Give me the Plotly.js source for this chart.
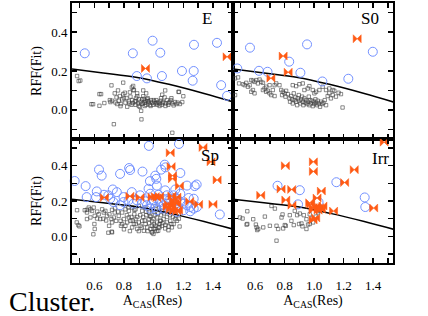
<!DOCTYPE html>
<html>
<head>
<meta charset="utf-8">
<script src="https://cdn.plot.ly/plotly-3.0.1.min.js"></script>
<style>html,body{margin:0;padding:0;background:#fff;}#chart{width:428px;height:316px;}</style>
</head>
<body>
<div id="chart"></div>
<script>
// ---- reference curve (same in all panels) ----
const curveX = [0.45, 0.66, 0.89, 1.11, 1.34, 1.54];
const curveY = [0.21, 0.19, 0.167, 0.13, 0.084, 0.04];

// ---- E panel ----
const eSqX = [0.484,0.495,0.506,0.581,0.592,0.635,0.635,0.646,0.668,0.716,0.705,0.732,0.795,0.709,0.72,0.738,0.75,0.743,0.754,0.765,0.772,0.777,0.788,0.795,0.806,0.81,0.817,0.822,0.833,0.837,0.844,0.851,0.855,0.862,0.867,0.873,0.878,0.882,0.889,0.894,0.9,0.907,0.912,0.916,0.918,0.923,0.927,0.934,0.939,0.945,0.95,0.957,0.964,0.968,0.975,0.982,0.991,0.997,1.004,1.013,1.018,1.024,1.031,1.04,1.047,1.054,1.058,1.065,1.074,1.081,1.09,1.099,1.108,1.117,1.126,1.135,1.144,1.153,1.162,1.171,1.177,1.193,1.126,0.86,0.88,0.9,0.92,0.94,0.96,0.98,1.0,1.02,1.04,1.06,1.08,1.1,1.05,0.93,0.96,0.89,1.12,1.2,0.78,0.8,0.84,0.76,0.93,0.95,0.853,0.864,1.078,1.168];
const eSqY = [0.174,0.148,0.151,0.029,0.029,0.021,0.081,0.081,0.035,0.126,0.05,-0.074,0.14,0.04,0.047,0.085,0.064,0.038,0.03,0.047,0.071,0.019,0.054,0.081,0.088,0.037,0.061,0.016,0.043,0.033,0.068,0.026,0.05,0.123,0.102,0.043,0.026,0.061,0.085,0.033,0.054,0.016,0.042,-0.005,-0.049,0.054,0.033,0.057,0.037,0.047,0.026,0.054,0.033,0.043,0.026,0.05,0.037,0.026,0.043,0.033,0.05,0.026,0.04,0.033,0.047,0.026,0.078,0.04,0.064,0.033,0.05,0.026,0.04,0.05,0.033,0.023,0.04,0.03,0.037,0.092,0.03,0.04,-0.118,0.035,0.045,0.02,0.03,0.02,0.045,0.02,0.05,0.035,0.02,0.035,0.02,0.035,0.06,0.07,0.06,0.07,0.06,0.07,0.03,0.06,0.09,0.1,0.1,0.085,0.115,0.101,0.1,0.093];
const eCircX = [0.536,0.86,0.993,1.045,1.272,1.427,0.887,0.955,1.056,1.191,1.27,1.263,1.455,1.495];
const eCircY = [0.291,0.291,0.356,0.294,0.335,0.345,0.174,0.162,0.174,0.2,0.2,0.15,0.127,0.072];
const eBowX = [0.945,1.495];
const eBowY = [0.213,0.273];

// ---- S0 panel ----
const s0SqX = [0.484,0.491,0.518,0.529,0.54,0.551,0.563,0.574,0.585,0.596,0.608,0.619,0.63,0.641,0.653,0.574,0.585,0.596,0.653,0.664,0.675,0.686,0.698,0.709,0.72,0.732,0.675,0.698,0.732,0.743,0.765,0.777,0.788,0.783,0.799,0.806,0.81,0.822,0.833,0.837,0.844,0.851,0.855,0.862,0.867,0.873,0.878,0.885,0.889,0.896,0.9,0.907,0.912,0.918,0.923,0.927,0.934,0.941,0.945,0.952,0.957,0.964,0.968,0.973,0.979,0.986,0.991,0.997,1.002,1.009,1.013,1.02,1.024,1.031,1.04,1.047,1.054,1.063,1.072,1.081,1.092,1.103,1.114,1.126,1.137,1.148,1.166,1.182,1.193,0.855,0.878,0.9,0.923,0.934,0.957,0.968,0.991,1.002,1.013,1.036,1.058,1.081,1.103,1.126,0.464,0.464];
const s0SqY = [0.167,0.136,0.132,0.127,0.139,0.119,0.127,0.153,0.15,0.144,0.153,0.136,0.156,0.144,0.139,0.093,0.102,0.085,0.102,0.11,0.093,0.098,0.085,0.076,0.102,0.071,0.119,0.127,0.127,0.136,0.127,0.102,0.093,0.076,0.085,0.068,0.098,0.081,0.059,0.042,0.071,0.054,0.033,0.085,0.05,0.064,0.042,0.024,0.059,0.076,0.047,0.033,0.054,0.068,0.042,0.024,0.059,0.036,0.05,0.03,0.042,0.068,0.024,0.05,0.033,0.047,0.019,0.042,0.03,0.054,0.036,0.024,0.047,0.033,0.016,0.042,0.03,0.036,0.05,0.024,0.071,0.085,0.059,0.076,0.098,0.068,0.088,0.081,0.012,0.127,0.122,0.132,0.136,0.102,0.11,0.122,0.102,0.085,0.093,0.102,0.119,0.102,0.11,0.102,0.162,0.076];
const s0CircX = [0.565,0.479,0.626,0.684,0.831,0.952,0.907,1.056,1.232,1.398];
const s0CircY = [0.32,0.213,0.201,0.196,0.248,0.337,0.191,0.146,0.16,0.299];
const s0BowX = [0.79,0.824,0.707,1.292];
const s0BowY = [0.277,0.194,0.163,0.366];

// ---- Sp panel ----
const spSqX = [0.482,0.493,0.594,0.695,0.718,0.484,0.5,0.536,0.551,0.563,0.574,0.585,0.596,0.551,0.574,0.603,0.619,0.63,0.641,0.601,0.603,0.653,0.664,0.675,0.686,0.702,0.716,0.72,0.732,0.738,0.747,0.72,0.765,0.777,0.788,0.799,0.81,0.822,0.833,0.844,0.855,0.867,0.878,0.889,0.9,0.912,0.923,0.934,0.945,0.957,0.968,0.979,0.991,1.002,1.013,1.024,1.031,1.04,1.047,0.788,0.81,0.833,0.855,0.878,0.9,0.923,0.945,0.968,0.991,1.013,1.036,0.977,0.999,1.022,1.045,1.067,1.09,1.112,1.135,1.157,1.175,0.988,1.011,1.033,1.056,1.078,1.101,1.123,1.146,0.999,0.988,0.82,0.85,0.87,0.89,0.91,0.93,0.95,0.97,0.99,1.01,1.03,1.05,1.07,1.09,1.11,1.13,1.15,1.17,0.76,0.78,0.8,0.84,0.86,0.88,0.9,0.92,0.94,0.96,0.98,1.0,1.02,1.04,1.06,1.08,1.1,1.12,0.7,0.68,0.66,0.72,0.74,0.62,0.55,0.83,0.87,0.95,1.0,1.06,1.11];
const spSqY = [0.079,0.064,0.012,0.021,0.027,0.148,0.057,0.148,0.135,0.163,0.153,0.144,0.163,0.098,0.107,0.116,0.101,0.125,0.098,0.07,0.042,0.153,0.135,0.144,0.116,0.125,0.098,0.079,0.107,0.135,0.088,0.023,0.116,0.088,0.07,0.098,0.06,0.079,0.107,0.088,0.051,0.07,0.098,0.042,0.079,0.06,0.088,0.032,0.07,0.051,0.098,0.042,0.023,0.07,0.06,0.079,0.032,0.051,0.088,0.135,0.153,0.144,0.163,0.153,0.172,0.144,0.163,0.135,0.153,0.172,0.163,0.116,0.098,0.107,0.088,0.098,0.079,0.088,0.07,0.088,0.056,0.06,0.042,0.051,0.06,0.045,0.056,0.051,0.098,0.014,0.023,0.12,0.11,0.125,0.11,0.12,0.11,0.12,0.075,0.085,0.12,0.13,0.12,0.13,0.11,0.12,0.11,0.12,0.1,0.14,0.06,0.04,0.03,0.09,0.07,0.03,0.05,0.09,0.03,0.11,0.045,0.03,0.07,0.075,0.065,0.035,0.07,0.06,0.09,0.1,0.15,0.16,0.14,0.15,0.165,0.15,0.14,0.14,0.145,0.14];
const spCircX = [0.968,1.171,0.632,0.65,0.774,0.835,0.842,0.925,1.011,1.018,1.051,0.975,0.468,0.542,0.725,0.617,0.666,0.752,0.549,0.612,0.695,0.797,0.853,0.909,0.966,1.022,1.078,1.146,1.225,1.277,1.236,1.27,1.446,0.943,0.887,0.921,0.955,0.988,1.011,1.045,1.067,1.09,1.112,1.135,1.157,1.18,1.202,1.225,1.247,1.27,1.292,1.202,1.247,0.999,1.033,1.078,1.112,1.157,0.797,0.831,0.864,0.729,0.774,0.707,0.977,1.022,1.067,1.112,1.157,0.977,1.033,1.09,1.135,1.18,1.075,1.08,1.18,1.29];
const spCircY = [0.511,0.522,0.377,0.343,0.353,0.386,0.375,0.366,0.343,0.325,0.377,0.312,0.313,0.284,0.265,0.254,0.235,0.25,0.222,0.222,0.232,0.222,0.25,0.232,0.269,0.287,0.26,0.265,0.287,0.284,0.217,0.213,0.124,0.198,0.204,0.185,0.176,0.185,0.166,0.194,0.176,0.185,0.166,0.194,0.176,0.194,0.185,0.176,0.166,0.157,0.166,0.148,0.142,0.204,0.213,0.204,0.213,0.213,0.194,0.204,0.185,0.194,0.176,0.213,0.157,0.148,0.157,0.148,0.139,0.241,0.235,0.232,0.232,0.241,0.405,0.39,0.358,0.293];
const spBowX = [1.333,1.112,1.387,1.118,1.428,1.127,1.127,1.174,0.668,0.84,0.908,0.989,1.011,1.04,1.022,1.123,1.1,1.123,1.146,1.157,1.112,1.135,1.09,1.157,1.168,1.157,1.135,1.243,1.303,1.4];
const spBowY = [0.502,0.472,0.421,0.394,0.319,0.343,0.325,0.285,0.219,0.227,0.219,0.222,0.225,0.226,0.218,0.228,0.181,0.172,0.19,0.144,0.153,0.144,0.166,0.185,0.148,0.222,0.204,0.197,0.181,0.181];

// ---- Irr panel ----
const irrSqX = [0.547,0.497,0.515,0.547,0.587,0.61,0.621,0.655,0.711,0.734,0.666,0.7,0.745,0.756,0.779,0.79,0.808,0.835,0.846,0.869,0.885,0.898,0.921,0.93,0.948,0.948,0.97,0.97,0.993,1.011,1.027,1.038,0.745,0.542,0.605,0.614,0.801,0.862,0.914,0.959,0.982,0.786,0.903];
const irrSqY = [0.142,0.107,0.101,0.07,0.097,0.051,0.042,0.051,0.172,0.157,0.112,0.06,0.06,0.042,0.107,0.045,0.06,0.12,0.088,0.144,0.12,0.07,0.057,0.12,0.042,0.097,0.125,0.07,0.079,0.112,0.135,0.144,-0.024,0.067,0.067,0.036,0.064,0.064,0.073,0.067,0.101,0.124,0.129];
const irrCircX = [0.752,0.903,0.891,1.03,1.151,1.343,1.347];
const irrCircY = [0.286,0.261,0.181,0.194,0.306,0.22,0.166];
const irrBowX = [1.475,0.995,0.995,0.805,1.272,1.207,0.776,0.848,1.049,0.638,0.808,1.02,0.85,0.97,0.977,0.993,1.016,1.038,1.06,0.993,1.027,1.049,1.132,1.404,0.993,1.011];
const irrBowY = [0.532,0.421,0.367,0.399,0.377,0.304,0.267,0.265,0.256,0.232,0.206,0.217,0.176,0.19,0.181,0.163,0.172,0.163,0.172,0.148,0.148,0.153,0.143,0.16,0.093,0.104];

// ---- axes ticks ----
const xTickVals = [0.5,0.6,0.7,0.8,0.9,1.0,1.1,1.2,1.3,1.4,1.5];
const xTickText = [' ','0.6',' ','0.8',' ','1.0',' ','1.2',' ','1.4',' '];
const yTickVals = [-0.1,0.0,0.1,0.2,0.3,0.4,0.5];
const yTickText = [' ','0.0',' ','0.2',' ','0.4',' '];

const SERIF = '"Liberation Serif", serif';
const sqStyle = {symbol:'square-open', size:3.4, color:'#3c3c3c', line:{width:0.6, color:'#3c3c3c'}};
const circStyle = {symbol:'circle-open', size:9, color:'#7391ff', line:{width:1, color:'#7391ff'}};
const bowStyle = {symbol:'bowtie', size:8, color:'#ff5a14', line:{width:0.5, color:'#ff5a14'}};

function panel(xa, ya, sqX, sqY, cX, cY, bX, bY) {
  return [
    {x:sqX, y:sqY, xaxis:xa, yaxis:ya, mode:'markers', type:'scatter', marker:sqStyle, cliponaxis:false, hoverinfo:'skip'},
    {x:curveX, y:curveY, xaxis:xa, yaxis:ya, mode:'lines', type:'scatter', line:{color:'#000', width:1.5, shape:'spline'}, hoverinfo:'skip'},
    {x:cX, y:cY, xaxis:xa, yaxis:ya, mode:'markers', type:'scatter', marker:circStyle, cliponaxis:false, hoverinfo:'skip'},
    {x:bX, y:bY, xaxis:xa, yaxis:ya, mode:'markers', type:'scatter', marker:bowStyle, cliponaxis:false, hoverinfo:'skip'}
  ];
}

const data = [].concat(
  panel('x','y', eSqX, eSqY, eCircX, eCircY, eBowX, eBowY),
  panel('x2','y2', s0SqX, s0SqY, s0CircX, s0CircY, s0BowX, s0BowY),
  panel('x3','y3', spSqX, spSqY, spCircX, spCircY, spBowX, spBowY),
  panel('x4','y4', irrSqX, irrSqY, irrCircX, irrCircY, irrBowX, irrBowY)
);

function xAx(domain, anchor, labels) {
  const a = {domain:domain, anchor:anchor, range:[0.45,1.535], tickmode:'array', tickvals:xTickVals, ticktext:xTickText,
    ticks:'inside', ticklen:5, tickwidth:1.5, tickcolor:'#000', showline:true, linewidth:2, linecolor:'#000',
    mirror:'allticks', showgrid:false, zeroline:false, showticklabels:labels, ticklabelstandoff:9,
    tickfont:{family:SERIF, size:13, color:'#000'}};
  if (labels) a.title = {text:'A<sub>CAS</sub>(Res)', standoff:4, font:{family:SERIF, size:14, color:'#000'}};
  return a;
}
function yAx(domain, anchor, labels) {
  const a = {domain:domain, anchor:anchor, range:[-0.15,0.55], tickmode:'array', tickvals:yTickVals, ticktext:yTickText,
    ticks:'inside', ticklen:5, tickwidth:1.5, tickcolor:'#000', showline:true, linewidth:2, linecolor:'#000',
    mirror:'allticks', showgrid:false, zeroline:false, showticklabels:labels,
    tickfont:{family:SERIF, size:13, color:'#000'}};
  if (labels) a.title = {text:'RFF(Fit)', standoff:6, font:{family:SERIF, size:14, color:'#000'}};
  return a;
}

const xL = [0, 0.5016], xR = [0.5016, 1];
const yT = [0.477, 1], yB = [0, 0.477];

const layout = {
  width:428, height:316,
  margin:{l:72, r:35, t:3, b:53},
  paper_bgcolor:'#fff', plot_bgcolor:'#fff',
  showlegend:false,
  font:{family:SERIF, color:'#000'},
  xaxis: xAx(xL, 'y', false),
  yaxis: yAx(yT, 'x', true),
  xaxis2: xAx(xR, 'y2', false),
  yaxis2: yAx(yT, 'x2', false),
  xaxis3: xAx(xL, 'y3', true),
  yaxis3: yAx(yB, 'x3', true),
  xaxis4: xAx(xR, 'y4', true),
  yaxis4: yAx(yB, 'x4', false),
  annotations: [
    {text:'E', xref:'x domain', yref:'y domain', x:0.837, y:0.887, xanchor:'center', yanchor:'middle', showarrow:false, font:{family:SERIF, size:17, color:'#000'}},
    {text:'S0', xref:'x2 domain', yref:'y2 domain', x:0.854, y:0.887, xanchor:'center', yanchor:'middle', showarrow:false, font:{family:SERIF, size:17, color:'#000'}},
    {text:'Sp', xref:'x3 domain', yref:'y3 domain', x:0.86, y:0.87, xanchor:'center', yanchor:'middle', showarrow:false, font:{family:SERIF, size:17, color:'#000'}},
    {text:'Irr', xref:'x4 domain', yref:'y4 domain', x:0.922, y:0.843, xanchor:'center', yanchor:'middle', showarrow:false, font:{family:SERIF, size:17, color:'#000'}},
    {text:'Cluster.', xref:'paper', yref:'paper', x:-0.2025, y:-0.148, xanchor:'left', yanchor:'middle', showarrow:false, font:{family:SERIF, size:28, color:'#000'}}
  ]
};

Plotly.newPlot('chart', data, layout, {staticPlot:true, displayModeBar:false});
</script>
</body>
</html>
